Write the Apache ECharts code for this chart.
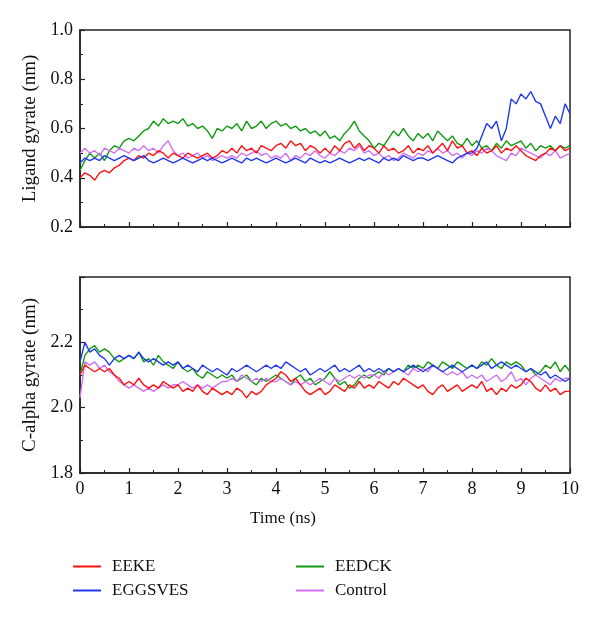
<!DOCTYPE html>
<html>
<head>
<meta charset="utf-8">
<script src="https://cdn.jsdelivr.net/npm/echarts@6/dist/echarts.min.js"></script>
<style>
html,body{margin:0;padding:0;background:#fff;}
#chart{width:600px;height:623px;}
</style>
</head>
<body>
<div id="chart"></div>
<script>
const time = [0,0.1,0.2,0.3,0.4,0.5,0.6,0.7,0.8,0.9,
1,1.1,1.2,1.3,1.4,1.5,1.6,1.7,1.8,1.9,
2,2.1,2.2,2.3,2.4,2.5,2.6,2.7,2.8,2.9,
3,3.1,3.2,3.3,3.4,3.5,3.6,3.7,3.8,3.9,
4,4.1,4.2,4.3,4.4,4.5,4.6,4.7,4.8,4.9,
5,5.1,5.2,5.3,5.4,5.5,5.6,5.7,5.8,5.9,
6,6.1,6.2,6.3,6.4,6.5,6.6,6.7,6.8,6.9,
7,7.1,7.2,7.3,7.4,7.5,7.6,7.7,7.8,7.9,
8,8.1,8.2,8.3,8.4,8.5,8.6,8.7,8.8,8.9,
9,9.1,9.2,9.3,9.4,9.5,9.6,9.7,9.8,9.9,10];

const seriesNames = ["EEKE","EGGSVES","EEDCK","Control"];
const seriesColors = ["#ff1010","#2038f0","#139a13","#d070f0"];

// Ligand gyrate (nm)
const ligEEKE = [0.40,0.42,0.41,0.39,0.42,0.43,0.42,0.44,0.45,0.47,
0.48,0.47,0.49,0.48,0.50,0.49,0.51,0.50,0.48,0.50,
0.49,0.48,0.50,0.49,0.48,0.49,0.50,0.48,0.49,0.51,
0.50,0.52,0.50,0.53,0.51,0.52,0.50,0.53,0.52,0.51,
0.53,0.54,0.52,0.55,0.53,0.54,0.51,0.53,0.52,0.50,
0.52,0.50,0.53,0.51,0.54,0.55,0.52,0.54,0.51,0.53,
0.52,0.50,0.53,0.51,0.52,0.50,0.51,0.53,0.50,0.52,
0.51,0.53,0.50,0.52,0.54,0.51,0.55,0.52,0.53,0.50,
0.51,0.49,0.52,0.50,0.51,0.53,0.50,0.52,0.51,0.53,
0.51,0.49,0.48,0.47,0.49,0.50,0.52,0.51,0.53,0.51,0.52];
const ligEGGSVES = [0.46,0.48,0.47,0.48,0.47,0.49,0.48,0.47,0.48,0.49,
0.48,0.47,0.48,0.49,0.47,0.46,0.47,0.48,0.47,0.46,
0.47,0.48,0.47,0.46,0.47,0.48,0.47,0.48,0.47,0.46,
0.47,0.48,0.47,0.46,0.48,0.47,0.48,0.47,0.46,0.47,
0.48,0.47,0.46,0.47,0.48,0.47,0.46,0.48,0.47,0.46,
0.47,0.46,0.47,0.48,0.47,0.46,0.47,0.48,0.47,0.48,
0.47,0.46,0.48,0.47,0.48,0.47,0.49,0.48,0.47,0.48,
0.48,0.47,0.48,0.49,0.48,0.47,0.46,0.48,0.49,0.50,
0.50,0.52,0.57,0.62,0.60,0.63,0.55,0.60,0.72,0.70,
0.74,0.72,0.75,0.71,0.70,0.65,0.60,0.65,0.62,0.70,0.66];
const ligEEDCK = [0.43,0.47,0.50,0.48,0.50,0.47,0.51,0.53,0.52,0.55,
0.56,0.55,0.57,0.59,0.60,0.63,0.61,0.64,0.62,0.63,
0.62,0.64,0.61,0.62,0.60,0.61,0.59,0.56,0.60,0.59,
0.61,0.60,0.62,0.59,0.63,0.60,0.61,0.63,0.60,0.62,
0.63,0.61,0.62,0.60,0.61,0.59,0.60,0.58,0.59,0.57,
0.59,0.56,0.57,0.55,0.58,0.60,0.63,0.59,0.57,0.55,
0.52,0.54,0.53,0.56,0.59,0.57,0.60,0.57,0.55,0.58,
0.56,0.58,0.55,0.59,0.57,0.55,0.57,0.54,0.53,0.56,
0.53,0.55,0.52,0.53,0.51,0.54,0.52,0.55,0.53,0.54,
0.55,0.52,0.54,0.51,0.53,0.52,0.53,0.51,0.53,0.52,0.53];
const ligControl = [0.50,0.52,0.50,0.51,0.49,0.52,0.51,0.50,0.52,0.51,
0.50,0.52,0.51,0.53,0.51,0.52,0.50,0.53,0.55,0.51,
0.49,0.50,0.48,0.49,0.50,0.48,0.49,0.47,0.48,0.49,
0.48,0.49,0.48,0.50,0.49,0.50,0.51,0.49,0.50,0.48,
0.49,0.48,0.50,0.47,0.49,0.48,0.50,0.49,0.51,0.49,
0.48,0.50,0.49,0.51,0.50,0.52,0.51,0.53,0.50,0.51,
0.49,0.50,0.48,0.49,0.47,0.48,0.50,0.49,0.48,0.50,
0.49,0.51,0.50,0.52,0.50,0.51,0.49,0.50,0.48,0.50,
0.49,0.51,0.50,0.52,0.51,0.49,0.48,0.47,0.50,0.49,
0.52,0.51,0.50,0.49,0.48,0.50,0.49,0.51,0.48,0.49,0.50];

// C-alpha gyrate (nm)
const caEEKE = [2.10,2.13,2.12,2.11,2.12,2.11,2.12,2.10,2.09,2.07,
2.08,2.07,2.09,2.07,2.06,2.07,2.06,2.08,2.07,2.06,
2.07,2.05,2.06,2.05,2.07,2.05,2.04,2.06,2.05,2.04,
2.05,2.04,2.06,2.05,2.03,2.05,2.04,2.05,2.07,2.08,
2.09,2.11,2.10,2.08,2.09,2.07,2.05,2.04,2.05,2.06,
2.04,2.05,2.07,2.06,2.05,2.07,2.06,2.08,2.06,2.07,
2.06,2.08,2.07,2.06,2.08,2.07,2.09,2.08,2.07,2.06,
2.07,2.05,2.04,2.06,2.07,2.05,2.06,2.07,2.05,2.06,
2.07,2.06,2.08,2.05,2.06,2.04,2.06,2.05,2.07,2.06,
2.07,2.09,2.08,2.06,2.05,2.07,2.05,2.06,2.04,2.05,2.05];
const caEGGSVES = [2.14,2.20,2.17,2.18,2.16,2.15,2.13,2.15,2.16,2.15,
2.16,2.15,2.17,2.15,2.14,2.15,2.14,2.13,2.14,2.13,
2.14,2.12,2.13,2.12,2.11,2.13,2.12,2.11,2.12,2.11,
2.10,2.12,2.11,2.12,2.13,2.12,2.11,2.12,2.13,2.12,
2.13,2.12,2.14,2.13,2.12,2.11,2.12,2.10,2.11,2.12,
2.11,2.12,2.13,2.11,2.12,2.11,2.12,2.13,2.11,2.12,
2.11,2.12,2.11,2.12,2.11,2.12,2.11,2.12,2.13,2.12,
2.11,2.12,2.13,2.12,2.11,2.12,2.13,2.12,2.11,2.12,
2.13,2.12,2.13,2.14,2.12,2.13,2.14,2.13,2.12,2.13,
2.12,2.11,2.12,2.11,2.10,2.11,2.09,2.10,2.09,2.08,2.09];
const caEEDCK = [2.10,2.16,2.18,2.19,2.17,2.18,2.17,2.15,2.14,2.15,
2.16,2.15,2.17,2.14,2.15,2.13,2.16,2.14,2.13,2.12,
2.14,2.12,2.11,2.12,2.10,2.09,2.11,2.10,2.09,2.10,
2.09,2.10,2.08,2.09,2.10,2.08,2.07,2.09,2.08,2.09,
2.10,2.09,2.08,2.07,2.09,2.10,2.08,2.09,2.07,2.08,
2.09,2.11,2.09,2.07,2.08,2.06,2.07,2.09,2.10,2.09,
2.10,2.11,2.10,2.12,2.11,2.12,2.11,2.13,2.12,2.13,
2.12,2.14,2.13,2.12,2.14,2.13,2.12,2.14,2.13,2.12,
2.13,2.12,2.14,2.13,2.15,2.13,2.12,2.14,2.13,2.14,
2.13,2.11,2.12,2.10,2.11,2.13,2.12,2.14,2.11,2.13,2.11];
const caControl = [2.03,2.14,2.13,2.14,2.12,2.13,2.11,2.10,2.08,2.07,
2.06,2.07,2.06,2.05,2.06,2.05,2.06,2.07,2.06,2.07,
2.07,2.08,2.07,2.06,2.07,2.06,2.07,2.06,2.07,2.08,
2.08,2.09,2.08,2.10,2.09,2.08,2.09,2.08,2.09,2.08,
2.08,2.09,2.08,2.07,2.08,2.07,2.08,2.07,2.08,2.09,
2.08,2.07,2.09,2.08,2.09,2.10,2.09,2.10,2.09,2.10,
2.10,2.09,2.11,2.10,2.11,2.12,2.11,2.10,2.12,2.11,
2.12,2.11,2.13,2.12,2.11,2.10,2.11,2.10,2.11,2.09,
2.10,2.09,2.10,2.08,2.09,2.10,2.08,2.09,2.11,2.08,
2.09,2.07,2.09,2.10,2.09,2.08,2.07,2.09,2.08,2.09,2.09];

const ligTicks = [0.2,0.4,0.6,0.8,1.0];
const caTicks = [1.8,2.0,2.2];
const xTicks = [0,1,2,3,4,5,6,7,8,9,10];

const FONT = "Liberation Serif";
const ligData = {EEKE: ligEEKE, EGGSVES: ligEGGSVES, EEDCK: ligEEDCK, Control: ligControl};
const caData = {EEKE: caEEKE, EGGSVES: caEGGSVES, EEDCK: caEEDCK, Control: caControl};
const drawOrder = ["EEDCK","Control","EEKE","EGGSVES"];

function pairs(arr){ return arr.map((v,i)=>[time[i], v]); }

const series = [];
drawOrder.forEach(name=>{
  const c = seriesColors[seriesNames.indexOf(name)];
  series.push({name, type:'line', xAxisIndex:0, yAxisIndex:0, data:pairs(ligData[name]),
    showSymbol:false, symbol:'none', lineStyle:{width:1.4, color:c}, itemStyle:{color:c}});
  series.push({name, type:'line', xAxisIndex:1, yAxisIndex:1, data:pairs(caData[name]),
    showSymbol:false, symbol:'none', lineStyle:{width:1.4, color:c}, itemStyle:{color:c}});
});

function xAxis(gridIndex, showLabels){
  return {type:'value', gridIndex, min:0, max:10, interval:1,
    axisLine:{show:true, lineStyle:{color:'#222', width:1.5}},
    axisTick:{show:true, inside:true, length:5, lineStyle:{color:'#222', width:1.2}},
    minorTick:{show:true, splitNumber:2, length:3, lineStyle:{color:'#222', width:1}},
    splitLine:{show:false},
    axisLabel:{show:showLabels, fontFamily:FONT, fontSize:18, color:'#111', margin:7,
      formatter: v => xTicks.includes(v) ? String(v) : ''}};
}
function yAxis(gridIndex, min, max, ticks, name){
  return {type:'value', gridIndex, min, max, interval:0.2,
    name, nameLocation:'middle', nameGap:40,
    nameTextStyle:{fontFamily:FONT, fontSize:19, color:'#111'},
    axisLine:{show:true, lineStyle:{color:'#222', width:1.5}},
    axisTick:{show:true, inside:true, length:5, lineStyle:{color:'#222', width:1.2}},
    minorTick:{show:true, splitNumber:2, length:3, lineStyle:{color:'#222', width:1}},
    splitLine:{show:false},
    axisLabel:{fontFamily:FONT, fontSize:18, color:'#111', margin:7,
      formatter: v => { const t = ticks.find(k => Math.abs(k - v) < 1e-6); return t === undefined ? '' : t.toFixed(1); }}};
}

const chart = echarts.init(document.getElementById('chart'), null, {renderer:'canvas'});
chart.setOption({
  animation:false,
  backgroundColor:'#fff',
  grid:[
    {left:80, right:30, top:30, height:197, show:true, borderColor:'#222', borderWidth:1.5},
    {left:80, right:30, top:277, height:196, show:true, borderColor:'#222', borderWidth:1.5}
  ],
  xAxis:[xAxis(0,false), xAxis(1,true)],
  yAxis:[yAxis(0,0.2,1.0,ligTicks,'Ligand gyrate (nm)'), yAxis(1,1.8,2.4,caTicks,'C-alpha gyrate (nm)')],
  legend:[
    {data:['EEKE','EGGSVES'], orient:'vertical', left:73, top:558, padding:0, itemWidth:28, itemHeight:2, itemGap:7,
      icon:'rect', textStyle:{fontFamily:FONT, fontSize:17, color:'#111', padding:[0,0,0,6]}},
    {data:['EEDCK','Control'], orient:'vertical', left:296, top:558, padding:0, itemWidth:28, itemHeight:2, itemGap:7,
      icon:'rect', textStyle:{fontFamily:FONT, fontSize:17, color:'#111', padding:[0,0,0,6]}}
  ],
  graphic:[{type:'text', left:250, top:510, style:{text:'Time (ns)', font:'17px "Liberation Serif"', fill:'#111'}}],
  series
});
</script>
</body>
</html>
